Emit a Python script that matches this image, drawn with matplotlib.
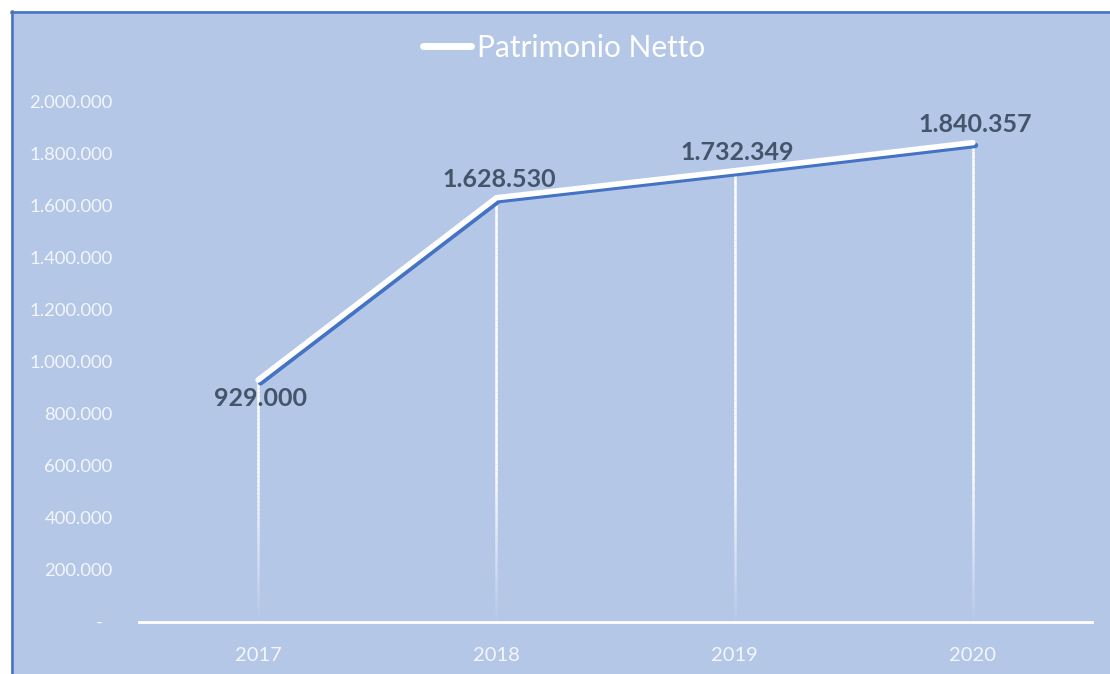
import matplotlib
matplotlib.use("Agg")
import matplotlib.pyplot as plt
import matplotlib.patheffects as pe
from matplotlib.patches import Rectangle
from matplotlib.lines import Line2D
from matplotlib.collections import LineCollection
from matplotlib.ticker import FuncFormatter
import numpy as np

# data
years = ["2017", "2018", "2019", "2020"]
patrimonio_netto = [929000, 1628530, 1732349, 1840357]

plt.rcParams['font.family'] = ['Lato', 'DejaVu Sans']

bg = '#B4C7E7'
border = '#4472C4'
label_col = '#44546A'

fig = plt.figure(figsize=(11.1, 6.74), dpi=100)
fig.patch.set_facecolor('white')

# chart area with blue border on left and top
W, H = 1110, 674
fig.patches.append(Rectangle((11 / W, 0), 1 - 11 / W, 1 - 11 / H, transform=fig.transFigure,
                             facecolor=bg, edgecolor='none', zorder=-10))
fig.lines.append(Line2D([11.5 / W, 11.5 / W], [0, 1 - 11 / H], transform=fig.transFigure,
                        color=border, lw=1.8, zorder=-9))
fig.lines.append(Line2D([11 / W, 1], [1 - 11.5 / H, 1 - 11.5 / H], transform=fig.transFigure,
                        color=border, lw=1.8, zorder=-9))

ax = fig.add_axes([139 / W, 1 - 622 / H, (1092 - 139) / W, (622 - 101) / H])
ax.set_facecolor('none')
x = np.arange(len(years))

# drop lines fading towards the axis
for xi, yi in zip(x, patrimonio_netto):
    ys = np.linspace(0, yi, 60)
    segs = [[(xi, ys[k]), (xi, ys[k + 1])] for k in range(len(ys) - 1)]
    alphas = np.clip(ys[1:] / 600000, 0.03, 1.0)
    cols = [(1, 1, 1, a) for a in alphas]
    ax.add_collection(LineCollection(segs, colors=cols, linewidths=1.8, zorder=2))

ax.plot(x, patrimonio_netto, color='white', lw=4, solid_capstyle='round',
        solid_joinstyle='miter', zorder=3, label='Patrimonio Netto',
        path_effects=[pe.SimpleLineShadow(offset=(1.8, -2.0), shadow_color=border, alpha=1),
                      pe.Normal()])

def fmt(v):
    return f"{v:,.0f}".replace(",", ".")

for i, (xi, yi) in enumerate(zip(x, patrimonio_netto)):
    if i == 0:
        ax.annotate(fmt(yi), (xi, yi), xytext=(2, -5), textcoords='offset points',
                    ha='center', va='top', fontsize=18, fontweight='bold', color=label_col)
    else:
        ax.annotate(fmt(yi), (xi, yi), xytext=(2, 5), textcoords='offset points',
                    ha='center', va='bottom', fontsize=18, fontweight='bold', color=label_col)

ax.set_xlim(-0.5, len(years) - 0.5)
ax.set_ylim(0, 2000000)
ax.set_yticks(np.arange(0, 2000001, 200000))
ax.yaxis.set_major_formatter(FuncFormatter(lambda v, p: "-  " if v == 0 else fmt(v)))
ax.set_xticks(x)
ax.set_xticklabels(years)

for s in ['top', 'right', 'left']:
    ax.spines[s].set_visible(False)
ax.spines['bottom'].set_color('white')
ax.spines['bottom'].set_linewidth(2)
ax.tick_params(axis='y', length=0, pad=19, labelsize=13.3, labelcolor='#F4F6FB')
ax.tick_params(axis='x', length=0, pad=18, labelsize=14.5, labelcolor='#F4F6FB')

leg = fig.legend(loc='upper center', bbox_to_anchor=(0.508, 0.99), frameon=False,
                 fontsize=21.5, handlelength=1.6, handletextpad=0.2)
for t in leg.get_texts():
    t.set_color('white')
for h in leg.legend_handles:
    h.set_path_effects([])
    h.set_linewidth(5)

fig.savefig('out.png', dpi=100)
